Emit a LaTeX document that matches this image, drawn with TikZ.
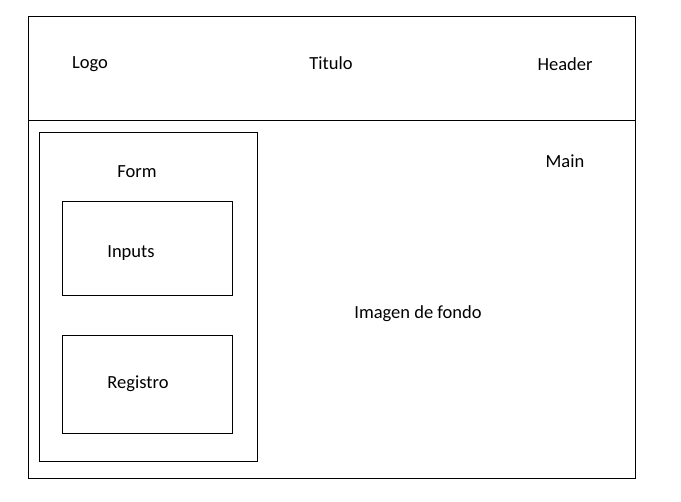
\documentclass[tikz,border=0pt]{standalone}
\usepackage{fontspec}
\setmainfont{Carlito}
\begin{document}
\begin{tikzpicture}[x=1pt,y=-1pt,
  box/.style={draw=black,line width=0.8pt,fill=none,inner sep=0pt,outer sep=0pt,anchor=north west},
  lbl/.style={font=\fontsize{18.5}{22}\selectfont,inner sep=0pt,anchor=center}]
\useasboundingbox (0,0) rectangle (681,502);
\fill[white] (0,0) rectangle (681,502);
\node[box,minimum width=607pt,minimum height=462pt] (outer) at (28.5,16.5) {};
\coordinate (hl) at (28.5,120.5);
\coordinate (hr) at (635.5,120.5);
\draw[draw=black,line width=0.8pt] (hl) -- (hr);
\node[box,minimum width=218pt,minimum height=329pt] (form) at (39.5,132.5) {};
\node[box,minimum width=170pt,minimum height=94pt] (inbox) at (62.5,201.5) {};
\node[box,minimum width=170pt,minimum height=98pt] (regbox) at (62.5,335.5) {};
\node[lbl] (logo) at (90,64) {Logo};
\node[lbl] (titulo) at (331,63) {Titulo};
\node[lbl] (header) at (565,64) {Header};
\node[lbl] (main) at (565,161) {Main};
\node[lbl] (formt) at (137,172) {Form};
\node[lbl] (inputs) at (131,253) {Inputs};
\node[lbl] (registro) at (138,384) {Registro};
\node[lbl] (imagen) at (418,314) {Imagen de fondo};
\end{tikzpicture}
\end{document}
